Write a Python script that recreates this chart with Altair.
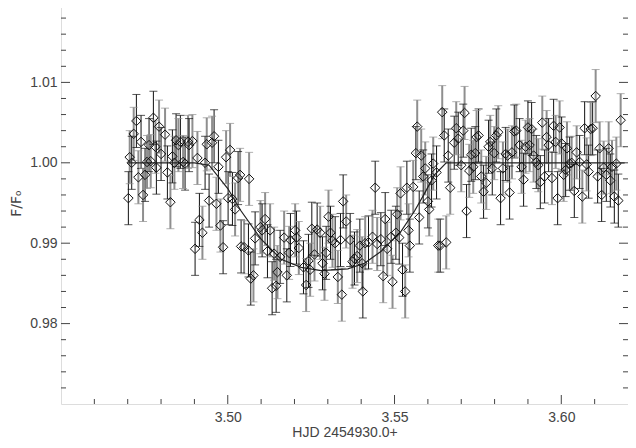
import altair as alt
import pandas as pd

# Observation times (HJD - 2454930.0) and normalised flux
TIME = [3.4702, 3.4706, 3.4712, 3.4718, 3.4726, 3.4732, 3.4740, 3.4746, 3.4752, 3.4758,
        3.4764, 3.4769, 3.4777, 3.4783, 3.4786, 3.4794, 3.4800, 3.4812, 3.4819, 3.4828,
        3.4834, 3.4840, 3.4845, 3.4852, 3.4858, 3.4866, 3.4872, 3.4881, 3.4884, 3.4894,
        3.4902, 3.4909, 3.4915, 3.4924, 3.4932, 3.4937, 3.4944, 3.4953, 3.4959, 3.4966,
        3.4972, 3.4978, 3.4986, 3.4995, 3.5001, 3.5007, 3.5014, 3.5022, 3.5031, 3.5037,
        3.5040, 3.5049, 3.5062, 3.5064, 3.5069, 3.5077, 3.5082, 3.5098, 3.5103, 3.5112,
        3.5119, 3.5127, 3.5133, 3.5139, 3.5145, 3.5149, 3.5157, 3.5169, 3.5177, 3.5184,
        3.5188, 3.5202, 3.5206, 3.5213, 3.5227, 3.5235, 3.5242, 3.5247, 3.5252, 3.5260,
        3.5268, 3.5277, 3.5284, 3.5290, 3.5295, 3.5302, 3.5308, 3.5314, 3.5322, 3.5330,
        3.5338, 3.5342, 3.5346, 3.5355, 3.5367, 3.5374, 3.5380, 3.5388, 3.5396, 3.5403,
        3.5405, 3.5412, 3.5422, 3.5434, 3.5442, 3.5448, 3.5459, 3.5466, 3.5472, 3.5478,
        3.5490, 3.5494, 3.5504, 3.5508, 3.5514, 3.5518, 3.5524, 3.5532, 3.5537, 3.5542,
        3.5546, 3.5556, 3.5564, 3.5568, 3.5574, 3.5580, 3.5586, 3.5592, 3.5600, 3.5604,
        3.5611, 3.5616, 3.5626, 3.5631, 3.5637, 3.5643, 3.5649, 3.5655, 3.5661, 3.5667,
        3.5679, 3.5685, 3.5691, 3.5700, 3.5706, 3.5710, 3.5716, 3.5724, 3.5730, 3.5736,
        3.5742, 3.5746, 3.5752, 3.5760, 3.5767, 3.5775, 3.5782, 3.5787, 3.5793, 3.5799,
        3.5805, 3.5811, 3.5818, 3.5825, 3.5833, 3.5839, 3.5845, 3.5852, 3.5859, 3.5865,
        3.5875, 3.5881, 3.5887, 3.5893, 3.5900, 3.5905, 3.5911, 3.5917, 3.5925, 3.5931,
        3.5937, 3.5943, 3.5950, 3.5956, 3.5962, 3.5972, 3.5977, 3.5983, 3.5989, 3.5995,
        3.6001, 3.6007, 3.6013, 3.6017, 3.6025, 3.6031, 3.6039, 3.6046, 3.6055, 3.6063,
        3.6070, 3.6076, 3.6082, 3.6088, 3.6094, 3.6103, 3.6109, 3.6115, 3.6121, 3.6127,
        3.6135, 3.6142, 3.6147, 3.6152, 3.6159, 3.6165, 3.6171, 3.6178]

FLUX = [0.9956, 1.0007, 1.0000, 1.0036, 1.0052, 0.9982, 1.0026, 0.9960, 0.9985, 1.0001,
        1.0022, 1.0002, 1.0056, 1.0020, 0.9994, 1.0045, 1.0011, 1.0035, 0.9988, 0.9951,
        1.0008, 1.0000, 1.0028, 1.0022, 1.0026, 1.0001, 0.9999, 1.0026, 1.0022, 1.0027,
        0.9893, 1.0006, 0.9929, 0.9913, 1.0000, 1.0023, 0.9953, 1.0025, 1.0033, 0.9949,
        0.9995, 0.9922, 0.9895, 1.0007, 0.9956, 1.0016, 0.9955, 0.9942, 0.9981, 0.9985,
        0.9896, 0.9895, 0.9891, 0.9980, 0.9856, 0.9860, 0.9906, 0.9920, 0.9916, 0.9930,
        0.9890, 0.9916, 0.9844, 0.9887, 0.9847, 0.9864, 0.9883, 0.9907, 0.9860, 0.9888,
        0.9904, 0.9916, 0.9907, 0.9894, 0.9870, 0.9848, 0.9878, 0.9867, 0.9918, 0.9886,
        0.9917, 0.9913, 0.9875, 0.9862, 0.9888, 0.9933, 0.9913, 0.9903, 0.9900, 0.9858,
        0.9904, 0.9836, 0.9952, 0.9927, 0.9904, 0.9877, 0.9881, 0.9884, 0.9897, 0.9875,
        0.9840, 0.9900, 0.9901, 0.9908, 0.9969, 0.9899, 0.9905, 0.9859, 0.9930, 0.9893,
        0.9908, 0.9852, 0.9913, 0.9936, 0.9907, 0.9962, 0.9867, 0.9840, 0.9969, 0.9916,
        0.9897, 0.9970, 1.0012, 1.0045, 0.9932, 1.0009, 0.9983, 0.9993, 0.9952, 0.9942,
        0.9978, 0.9999, 0.9988, 0.9897, 0.9897, 1.0063, 1.0034, 0.9901, 1.0009, 0.9969,
        1.0025, 1.0043, 1.0030, 0.9997, 1.0040, 1.0062, 0.9940, 0.9990, 1.0010, 0.9995,
        1.0012, 1.0032, 1.0034, 0.9983, 0.9964, 0.9975, 1.0020, 1.0026, 0.9993, 1.0012,
        1.0034, 1.0038, 0.9956, 0.9993, 1.0011, 1.0009, 0.9963, 1.0013, 1.0039, 1.0040,
        1.0022, 0.9995, 0.9979, 1.0020, 1.0044, 1.0022, 1.0042, 1.0009, 1.0001, 0.9997,
        0.9976, 1.0050, 0.9983, 1.0032, 1.0022, 0.9981, 1.0046, 1.0026, 0.9956, 1.0044,
        1.0024, 0.9985, 0.9991, 1.0018, 0.9999, 1.0000, 0.9965, 1.0013, 1.0001, 0.9958,
        1.0043, 0.9998, 0.9989, 1.0042, 1.0043, 1.0083, 0.9983, 1.0018, 0.9960, 0.9994,
        0.9985, 1.0018, 0.9978, 0.9995, 0.9958, 0.9999, 0.9953, 1.0053]

FLUX_ERR = 0.0033

# Transit model curve
MODEL_T = [3.4700, 3.4900, 3.4944, 3.5000, 3.5040, 3.5100, 3.5160, 3.5220, 3.5280,
           3.5360, 3.5410, 3.5460, 3.5520, 3.5560, 3.5590, 3.5620, 3.5655, 3.6190]
MODEL_F = [1.0000, 1.0000, 0.9997, 0.9968, 0.9940, 0.9905, 0.9880, 0.9870, 0.9866,
           0.9868, 0.9875, 0.9890, 0.9915, 0.9940, 0.9962, 0.9985, 1.0000, 1.0000]

X_MAJOR = [3.50, 3.55, 3.60]
X_MINOR = [3.46, 3.47, 3.48, 3.49, 3.51, 3.52, 3.53, 3.54, 3.56, 3.57, 3.58, 3.59, 3.61]
Y_MAJOR = [0.98, 0.99, 1.00, 1.01]
Y_MINOR = [0.972, 0.974, 0.976, 0.978, 0.982, 0.984, 0.986, 0.988, 0.992, 0.994,
           0.996, 0.998, 1.002, 1.004, 1.006, 1.008, 1.012, 1.014, 1.016, 1.018]

W, H = 567, 402
FONT = "Liberation Sans"
TXT = "#444444"

df = pd.DataFrame({"t": TIME, "f": FLUX})
df["lo"] = df["f"] - FLUX_ERR
df["hi"] = df["f"] + FLUX_ERR
df["grp"] = ["a" if i % 2 == 0 else "b" for i in range(len(df))]

mdf = pd.DataFrame({"t": MODEL_T, "f": MODEL_F})

xs = alt.Scale(domain=[3.45, 3.62], nice=False, zero=False)
ys = alt.Scale(domain=[0.97, 1.02], nice=False, zero=False)

XAX = alt.Axis(values=X_MAJOR, format=".2f", ticks=False, domain=False, grid=False,
               labelFont=FONT, labelFontSize=14, labelColor=TXT, labelPadding=6,
               title="HJD 2454930.0+", titleFont=FONT, titleFontSize=14,
               titleFontWeight="normal", titleColor=TXT, titlePadding=1)
YAX = alt.Axis(values=Y_MAJOR, format=".2f", ticks=False, domain=False, grid=False,
               labelFont=FONT, labelFontSize=14, labelColor=TXT, labelPadding=4,
               title="F/F\u2092", titleFont="DejaVu Sans", titleFontSize=14,
               titleFontWeight="normal", titleColor=TXT, titlePadding=6)

gcol = alt.Color("grp:N", scale=alt.Scale(domain=["a", "b"], range=["#111111", "#8f8f8f"]), legend=None)
gw = alt.StrokeWidth("grp:N", scale=alt.Scale(domain=["a", "b"], range=[1, 2]), legend=None)

base = alt.Chart(df)
bars = base.mark_rule().encode(
    x=alt.X("t:Q", scale=xs, axis=XAX),
    y=alt.Y("lo:Q", scale=ys, axis=YAX),
    y2="hi:Q", color=gcol, strokeWidth=gw)
cap_lo = base.mark_tick(orient="horizontal", size=8, thickness=1).encode(
    x=alt.X("t:Q", scale=xs, axis=XAX), y=alt.Y("lo:Q", scale=ys, axis=YAX), color=gcol)
cap_hi = base.mark_tick(orient="horizontal", size=8, thickness=1).encode(
    x=alt.X("t:Q", scale=xs, axis=XAX), y=alt.Y("hi:Q", scale=ys, axis=YAX), color=gcol)
model = alt.Chart(mdf).mark_line(color="#222222", strokeWidth=1.2).encode(
    x=alt.X("t:Q", scale=xs, axis=XAX), y=alt.Y("f:Q", scale=ys, axis=YAX))
pts = base.mark_point(shape="diamond", size=90, filled=False, color="#111111",
                      strokeWidth=1, opacity=1).encode(
    x=alt.X("t:Q", scale=xs, axis=XAX), y=alt.Y("f:Q", scale=ys, axis=YAX))

def xticks(vals, length):
    return alt.Chart(pd.DataFrame({"v": vals})).mark_rule(color="#444444", strokeWidth=1).encode(
        x=alt.X("v:Q", scale=xs, axis=XAX), y=alt.value(H), y2=alt.value(H - length))

def yticks(vals, length, right=False):
    x0 = W if right else 0
    x1 = W - length if right else length
    return alt.Chart(pd.DataFrame({"v": vals})).mark_rule(color="#444444", strokeWidth=1).encode(
        y=alt.Y("v:Q", scale=ys, axis=YAX), x=alt.value(x0), x2=alt.value(x1))

chart = alt.layer(
    bars, cap_lo, cap_hi, model, pts,
    xticks(X_MAJOR, 9), xticks(X_MINOR, 5),
    yticks(Y_MAJOR, 9), yticks(Y_MINOR, 5),
    yticks(Y_MAJOR, 9, True), yticks(Y_MINOR, 5, True),
).properties(
    width=W, height=H,
    autosize=alt.AutoSizeParams(type="none"),
    padding={"left": 53, "top": -6, "right": 0, "bottom": 34},
).configure_view(stroke="#444444", strokeWidth=1).configure(background="white")

chart.save("out.html", embed_options={"renderer": "svg", "actions": False})
